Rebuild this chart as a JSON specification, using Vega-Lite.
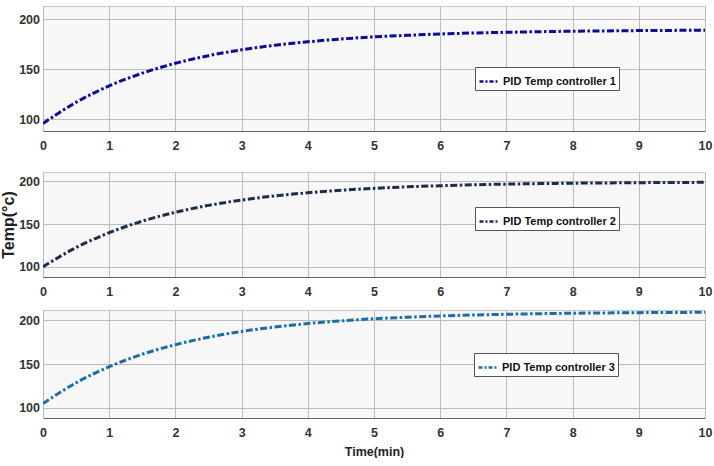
{
  "$schema": "https://vega.github.io/schema/vega-lite/v6.json",
  "padding": {"left": 0, "top": 5, "right": 0, "bottom": 0},
  "background": "white",
  "config": {
    "view": {"fill": "#f7f7f7", "stroke": "#c8c8c8"},
    "font": "Liberation Sans",
    "axis": {
      "labelFont": "Liberation Sans", "labelFontWeight": "bold", "labelFontSize": 12.5, "labelColor": "#333333",
      "titleFont": "Liberation Sans", "titleFontWeight": "bold", "titleColor": "#222222", "titleFontSize": 12.5,
      "ticks": false, "gridColor": "#bbbbbb", "gridOpacity": 1, "gridWidth": 1
    },
    "legend": {
      "orient": "none", "title": null, "fillColor": "white", "strokeColor": "#555555", "padding": 3,
      "labelFont": "Liberation Sans", "labelFontSize": 11, "labelFontWeight": "bold", "labelColor": "#111111",
      "labelOffset": 2, "symbolType": "stroke", "symbolSize": 400, "symbolStrokeWidth": 2.5, "symbolDash": [4, 2, 2, 2]
    }
  },
  "datasets": {
    "d": [
      {"t": 0, "v": 95.5, "s": "PID Temp controller 1"},
      {"t": 0.5, "v": 116.7, "s": "PID Temp controller 1"},
      {"t": 1, "v": 133.1, "s": "PID Temp controller 1"},
      {"t": 1.5, "v": 145.8, "s": "PID Temp controller 1"},
      {"t": 2, "v": 155.7, "s": "PID Temp controller 1"},
      {"t": 2.5, "v": 163.3, "s": "PID Temp controller 1"},
      {"t": 3, "v": 169.2, "s": "PID Temp controller 1"},
      {"t": 3.5, "v": 173.7, "s": "PID Temp controller 1"},
      {"t": 4, "v": 177.2, "s": "PID Temp controller 1"},
      {"t": 4.5, "v": 180.0, "s": "PID Temp controller 1"},
      {"t": 5, "v": 182.1, "s": "PID Temp controller 1"},
      {"t": 5.5, "v": 183.7, "s": "PID Temp controller 1"},
      {"t": 6, "v": 185.0, "s": "PID Temp controller 1"},
      {"t": 6.5, "v": 186.0, "s": "PID Temp controller 1"},
      {"t": 7, "v": 186.7, "s": "PID Temp controller 1"},
      {"t": 7.5, "v": 187.3, "s": "PID Temp controller 1"},
      {"t": 8, "v": 187.8, "s": "PID Temp controller 1"},
      {"t": 8.5, "v": 188.1, "s": "PID Temp controller 1"},
      {"t": 9, "v": 188.4, "s": "PID Temp controller 1"},
      {"t": 9.5, "v": 188.6, "s": "PID Temp controller 1"},
      {"t": 10, "v": 188.8, "s": "PID Temp controller 1"},
      {"t": 0, "v": 100.0, "s": "PID Temp controller 2"},
      {"t": 0.5, "v": 122.5, "s": "PID Temp controller 2"},
      {"t": 1, "v": 139.9, "s": "PID Temp controller 2"},
      {"t": 1.5, "v": 153.4, "s": "PID Temp controller 2"},
      {"t": 2, "v": 163.8, "s": "PID Temp controller 2"},
      {"t": 2.5, "v": 171.9, "s": "PID Temp controller 2"},
      {"t": 3, "v": 178.1, "s": "PID Temp controller 2"},
      {"t": 3.5, "v": 183.0, "s": "PID Temp controller 2"},
      {"t": 4, "v": 186.7, "s": "PID Temp controller 2"},
      {"t": 4.5, "v": 189.6, "s": "PID Temp controller 2"},
      {"t": 5, "v": 191.8, "s": "PID Temp controller 2"},
      {"t": 5.5, "v": 193.6, "s": "PID Temp controller 2"},
      {"t": 6, "v": 194.9, "s": "PID Temp controller 2"},
      {"t": 6.5, "v": 196.0, "s": "PID Temp controller 2"},
      {"t": 7, "v": 196.8, "s": "PID Temp controller 2"},
      {"t": 7.5, "v": 197.4, "s": "PID Temp controller 2"},
      {"t": 8, "v": 197.9, "s": "PID Temp controller 2"},
      {"t": 8.5, "v": 198.2, "s": "PID Temp controller 2"},
      {"t": 9, "v": 198.5, "s": "PID Temp controller 2"},
      {"t": 9.5, "v": 198.7, "s": "PID Temp controller 2"},
      {"t": 10, "v": 198.9, "s": "PID Temp controller 2"},
      {"t": 0, "v": 105.0, "s": "PID Temp controller 3"},
      {"t": 0.5, "v": 128.6, "s": "PID Temp controller 3"},
      {"t": 1, "v": 146.9, "s": "PID Temp controller 3"},
      {"t": 1.5, "v": 161.1, "s": "PID Temp controller 3"},
      {"t": 2, "v": 172.0, "s": "PID Temp controller 3"},
      {"t": 2.5, "v": 180.5, "s": "PID Temp controller 3"},
      {"t": 3, "v": 187.1, "s": "PID Temp controller 3"},
      {"t": 3.5, "v": 192.1, "s": "PID Temp controller 3"},
      {"t": 4, "v": 196.1, "s": "PID Temp controller 3"},
      {"t": 4.5, "v": 199.1, "s": "PID Temp controller 3"},
      {"t": 5, "v": 201.5, "s": "PID Temp controller 3"},
      {"t": 5.5, "v": 203.3, "s": "PID Temp controller 3"},
      {"t": 6, "v": 204.7, "s": "PID Temp controller 3"},
      {"t": 6.5, "v": 205.8, "s": "PID Temp controller 3"},
      {"t": 7, "v": 206.6, "s": "PID Temp controller 3"},
      {"t": 7.5, "v": 207.3, "s": "PID Temp controller 3"},
      {"t": 8, "v": 207.8, "s": "PID Temp controller 3"},
      {"t": 8.5, "v": 208.2, "s": "PID Temp controller 3"},
      {"t": 9, "v": 208.5, "s": "PID Temp controller 3"},
      {"t": 9.5, "v": 208.7, "s": "PID Temp controller 3"},
      {"t": 10, "v": 208.9, "s": "PID Temp controller 3"}
    ]
  },
  "bounds": "flush",
  "spacing": 41,
  "resolve": {"scale": {"color": "independent", "y": "independent"}, "legend": {"color": "independent"}},
  "vconcat": [
    {
      "width": 662, "height": 125,
      "data": {"name": "d"},
      "transform": [{"filter": "datum.s === 'PID Temp controller 1'"}],
      "mark": {"type": "line", "strokeWidth": 3, "strokeDash": [7, 2.5, 2.5, 2.5], "interpolate": "monotone", "clip": true},
      "encoding": {
        "x": {"field": "t", "type": "quantitative", "scale": {"domain": [0, 10], "nice": false},
              "axis": {"title": null, "values": [0,1,2,3,4,5,6,7,8,9,10], "labelPadding": 8.5, "labelFlush": false, "domainColor": "#666666"}},
        "y": {"field": "v", "type": "quantitative", "scale": {"domain": [88, 213], "nice": false, "zero": false},
              "axis": {"title": null, "values": [100, 150, 200], "labelPadding": 3.5, "domain": false}},
        "color": {"field": "s", "type": "nominal", "scale": {"domain": ["PID Temp controller 1"], "range": ["#0a0aa0"]},
                  "legend": {"legendX": 432, "legendY": 61}}
      }
    },
    {
      "bounds": "flush",
      "spacing": 33,
      "resolve": {"scale": {"color": "independent", "y": "independent"}, "legend": {"color": "independent"}},
      "vconcat": [
        {
          "width": 662, "height": 105,
          "data": {"name": "d"},
          "transform": [{"filter": "datum.s === 'PID Temp controller 2'"}],
          "mark": {"type": "line", "strokeWidth": 3, "strokeDash": [7, 2.5, 2.5, 2.5], "interpolate": "monotone", "clip": true},
          "encoding": {
            "x": {"field": "t", "type": "quantitative", "scale": {"domain": [0, 10], "nice": false},
                  "axis": {"title": null, "values": [0,1,2,3,4,5,6,7,8,9,10], "labelPadding": 8.5, "labelFlush": false, "domainColor": "#666666"}},
            "y": {"field": "v", "type": "quantitative", "scale": {"domain": [88, 211], "nice": false, "zero": false},
                  "axis": {"title": "Temp(°c)", "titleFontSize": 16, "titlePadding": 2, "values": [100, 150, 200], "labelPadding": 3.5, "domain": false}},
            "color": {"field": "s", "type": "nominal", "scale": {"domain": ["PID Temp controller 2"], "range": ["#1e2c4c"]},
                      "legend": {"legendX": 432, "legendY": 35}}
          }
        },
        {
          "width": 662, "height": 108,
          "data": {"name": "d"},
          "transform": [{"filter": "datum.s === 'PID Temp controller 3'"}],
          "mark": {"type": "line", "strokeWidth": 3, "strokeDash": [7, 2.5, 2.5, 2.5], "interpolate": "monotone", "clip": true},
          "encoding": {
            "x": {"field": "t", "type": "quantitative", "scale": {"domain": [0, 10], "nice": false},
                  "axis": {"title": "Time(min)", "titlePadding": 6, "values": [0,1,2,3,4,5,6,7,8,9,10], "labelPadding": 8.5, "labelFlush": false, "domainColor": "#666666"}},
            "y": {"field": "v", "type": "quantitative", "scale": {"domain": [88.5, 211.5], "nice": false, "zero": false},
                  "axis": {"title": null, "values": [100, 150, 200], "labelPadding": 3.5, "domain": false}},
            "color": {"field": "s", "type": "nominal", "scale": {"domain": ["PID Temp controller 3"], "range": ["#1a6fa8"]},
                      "legend": {"legendX": 431, "legendY": 43}}
          }
        }
      ]
    }
  ]
}
